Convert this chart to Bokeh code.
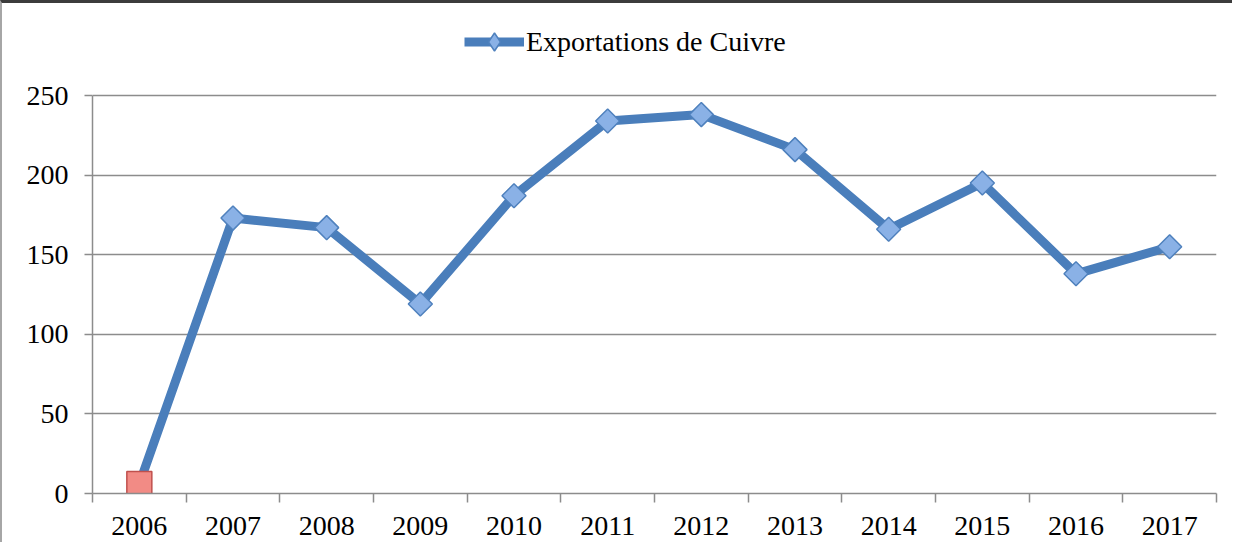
import math
from bokeh.plotting import figure
from bokeh.models import Range1d, FixedTicker, Legend, LegendItem, ColumnDataSource
from bokeh.embed import file_html
from bokeh.resources import INLINE

years = ["2006", "2007", "2008", "2009", "2010", "2011", "2012", "2013", "2014", "2015", "2016", "2017"]
exports = [6, 173, 167, 119, 187, 234, 238, 216, 166, 195, 138, 155]
series_name = "Exportations de Cuivre"
y_ticks = [0, 50, 100, 150, 200, 250]

xs = [i + 0.5 for i in range(len(years))]
src = ColumnDataSource(dict(x=xs, y=exports))
src_first = ColumnDataSource(dict(x=xs[:1], y=exports[:1]))
src_rest = ColumnDataSource(dict(x=xs[1:], y=exports[1:]))

FONT = "Liberation Serif"
GRID = "#8c8c8c"
BORDER_TOP = 3
BORDER_LEFT = 2

# frame: top of canvas down to y=493; value 250 sits at y=95
px_per_unit = (493 - 95) / 250.0
y_top = 250 + (95 - BORDER_TOP) / px_per_unit

p = figure(width=1234 - BORDER_LEFT, height=545 - BORDER_TOP,
           output_backend="svg", toolbar_location=None,
           x_range=Range1d(0, len(years)), y_range=Range1d(0, y_top),
           min_border_left=92 - BORDER_LEFT, min_border_right=18,
           min_border_top=0, min_border_bottom=52)
p.outline_line_color = None
p.background_fill_color = "white"
p.border_fill_color = "white"
p.styles = {"border-left": f"{BORDER_LEFT}px solid #a6a6a6",
            "border-top": f"{BORDER_TOP}px solid #3c3c3c"}

line = p.line("x", "y", source=src, line_color="#4A7EBB", line_width=9, line_join="round")
legend_dia = p.scatter("x", "y", source=src_rest, marker="diamond", size=20,
                       fill_color="#8AB1E6", line_color="#4F81BD", line_width=1.5)
dia = p.scatter("x", "y", source=src_rest, marker="square", angle=math.pi / 4, size=17,
                fill_color="#8AB1E6", line_color="#4F81BD", line_width=1.5)
p.scatter("x", "y", source=src_first, marker="square", size=25,
          fill_color="#F28B85", line_color="#C0504D", line_width=1.5)

# x axis: labels centered on categories, tick marks at boundaries
p.xaxis.ticker = FixedTicker(ticks=xs, minor_ticks=list(range(len(years) + 1)))
p.xaxis.major_label_overrides = {x: y for x, y in zip(xs, years)}
p.xaxis.major_tick_out = 0
p.xaxis.major_tick_in = 0
p.xaxis.minor_tick_out = 9
p.xaxis.minor_tick_in = 0
p.xaxis.minor_tick_line_color = GRID
p.xaxis.minor_tick_line_width = 1.5
p.xaxis.axis_line_color = GRID
p.xaxis.axis_line_width = 1.5
p.xaxis.major_label_standoff = 14
p.xaxis.major_label_text_font = FONT
p.xaxis.major_label_text_font_size = "28px"
p.xaxis.major_label_text_color = "black"

p.yaxis.ticker = FixedTicker(ticks=y_ticks)
p.yaxis.bounds = (0, 250)
p.yaxis.major_tick_out = 8
p.yaxis.major_tick_in = 0
p.yaxis.minor_tick_out = 0
p.yaxis.minor_tick_in = 0
p.yaxis.major_tick_line_color = GRID
p.yaxis.major_tick_line_width = 1.5
p.yaxis.axis_line_color = GRID
p.yaxis.axis_line_width = 1.5
p.yaxis.major_label_standoff = 16
p.yaxis.major_label_text_font = FONT
p.yaxis.major_label_text_font_size = "28px"
p.yaxis.major_label_text_color = "black"

p.xgrid.grid_line_color = None
p.ygrid.grid_line_color = GRID
p.ygrid.grid_line_width = 1.5

legend = Legend(items=[LegendItem(label=series_name, renderers=[line, legend_dia])],
                location=(372, 432 - BORDER_TOP), orientation="horizontal",
                label_text_font=FONT, label_text_font_size="28px", label_text_color="black",
                glyph_width=60, glyph_height=45, border_line_color=None,
                background_fill_alpha=0, padding=0, label_standoff=2)
p.add_layout(legend)

open("out.html", "w").write(file_html(p, INLINE))
